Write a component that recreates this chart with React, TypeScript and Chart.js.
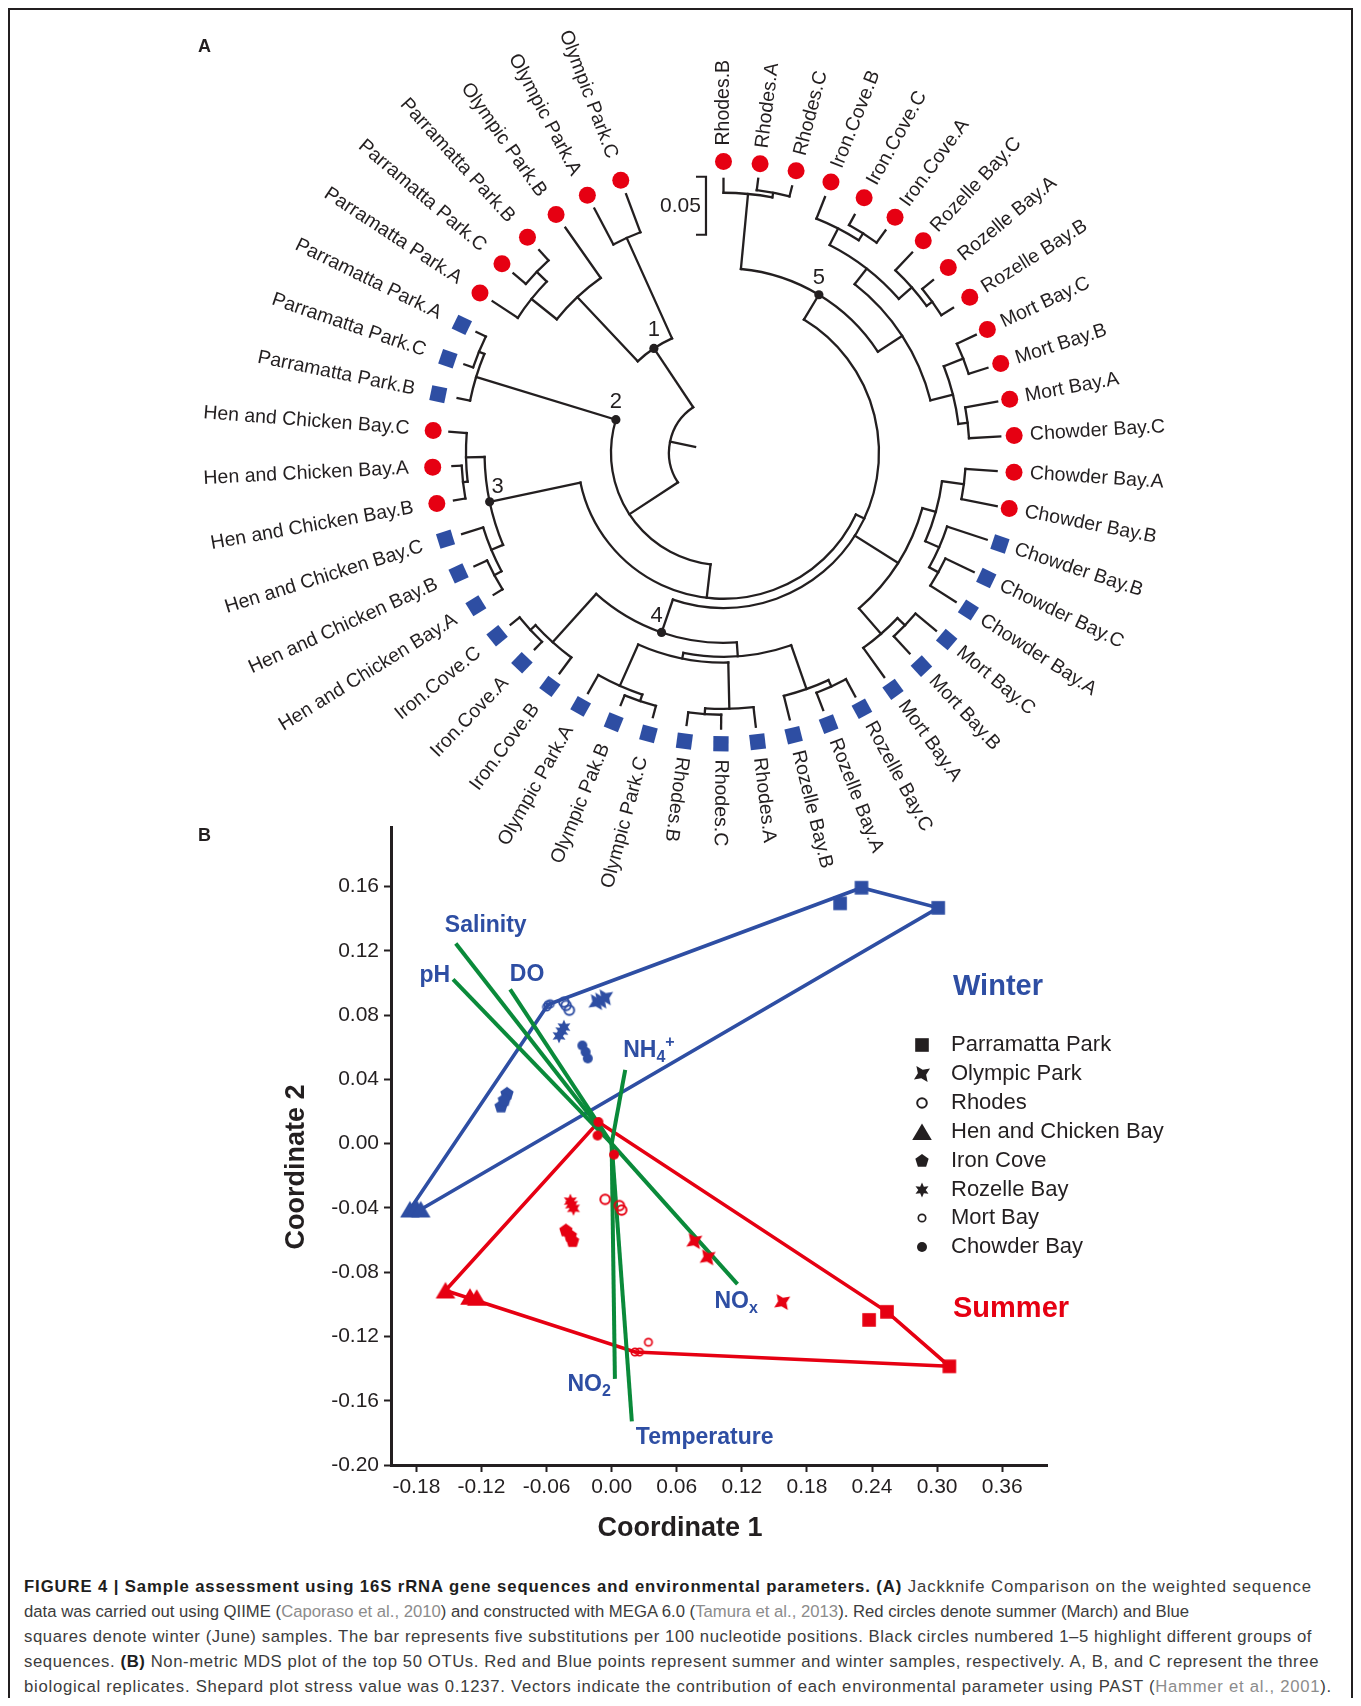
import React, { useEffect, useRef } from 'react';
import { Chart, registerables } from 'chart.js';

Chart.register(...registerables);

const FONT = '"Liberation Sans", Arial, Helvetica, sans-serif';
const INK = '#231f20';
const RED = '#e60012';
const BLUE = '#2e4ea3';
const GREEN = '#0a8a3a';

// ================= Panel A: jackknife tree (clockwise leaf order) =================
const leafNames = [
  'Rhodes.B', 'Rhodes.A', 'Rhodes.C', 'Iron.Cove.B', 'Iron.Cove.C', 'Iron.Cove.A',
  'Rozelle Bay.C', 'Rozelle Bay.A', 'Rozelle Bay.B', 'Mort Bay.C', 'Mort Bay.B', 'Mort Bay.A',
  'Chowder Bay.C', 'Chowder Bay.A', 'Chowder Bay.B', 'Chowder Bay.B', 'Chowder Bay.C', 'Chowder Bay.A',
  'Mort Bay.C', 'Mort Bay.B', 'Mort Bay.A', 'Rozelle Bay.C', 'Rozelle Bay.A', 'Rozelle Bay.B',
  'Rhodes.A', 'Rhodes.C', 'Rhodes.B', 'Olympic Park.C', 'Olympic Pak.B', 'Olympic Park.A',
  'Iron.Cove.B', 'Iron.Cove.A', 'Iron.Cove.C', 'Hen and Chicken Bay.A', 'Hen and Chicken Bay.B', 'Hen and Chicken Bay.C',
  'Hen and Chicken Bay.B', 'Hen and Chicken Bay.A', 'Hen and Chicken Bay.C', 'Parramatta Park.B', 'Parramatta Park.C', 'Parramatta Park.A',
  'Parramatta Park.A', 'Parramatta Park.C', 'Parramatta Park.B', 'Olympic Park.B', 'Olympic Park.A', 'Olympic Park.C',
];
// true = summer (red circle), false = winter (blue square)
const leafSummer = [
  true, true, true, true, true, true, true, true, true, true, true, true,
  true, true, true, false, false, false, false, false, false, false, false, false,
  false, false, false, false, false, false, false, false, false, false, false, false,
  true, true, true, false, false, false, true, true, true, true, true, true,
];
const leafParent = [
  'RhR', 'RhRac', 'RhRac', 'IC', 'ICca', 'ICca', 'RZ', 'RZab', 'RZab', 'MCcb', 'MCcb', 'MCac',
  'MCac', 'CRab', 'CRab', 'CBB', 'CBBca', 'CBBca', 'MBBcb', 'MBBcb', 'MBB', 'RZBac', 'RZBac', 'RZB',
  'RhB', 'RhBbc', 'RhBbc', 'OPBcb', 'OPBcb', 'OPB', 'ICB', 'ICBac', 'ICBac', 'HBab', 'HBab', 'HB',
  'HRba', 'HRba', 'HR', 'PB', 'PBca', 'PBca', 'P', 'PCB', 'PCB', 'c2', 'c1', 'c1',
];
// distance of each tip from the root (substitutions per site)
const leafTip = [
  0.236, 0.238, 0.237, 0.237, 0.234, 0.237, 0.237, 0.234, 0.234, 0.240, 0.239, 0.240,
  0.239, 0.236, 0.240, 0.239, 0.239, 0.238, 0.239, 0.236, 0.238, 0.239, 0.238, 0.237,
  0.238, 0.238, 0.237, 0.236, 0.235, 0.238, 0.237, 0.235, 0.236, 0.233, 0.236, 0.236,
  0.236, 0.234, 0.237, 0.234, 0.236, 0.237, 0.238, 0.238, 0.236, 0.237, 0.238, 0.238,
];
const nodeIds = [
  'root', 'X', 'n1', 'c1', 'c2', 'P', 'PCB', 'Na', 'PB', 'PBca', 'Nb', 'n3', 'HR', 'HRba', 'HB', 'HBab',
  'Nc', 'n5', 'RhR', 'RhRac', 'R5', 'IR', 'IC', 'ICca', 'RZ', 'RZab', 'MC', 'MCcb', 'MCac',
  'Nq', 'MBB', 'MBBcb', 'Ns', 'CBB', 'CBBca', 'CRab',
  'n4', 'ICB', 'ICBac', 'Nd', 'NOR', 'OPB', 'OPBcb', 'RhB', 'RhBbc', 'RZB', 'RZBac',
];
const nodeParent = [
  '', 'root', 'X', 'n1', 'n1', 'c2', 'P', 'X', 'Na', 'PB', 'Na', 'Nb', 'n3', 'HR', 'n3', 'HB',
  'Nb', 'Nc', 'n5', 'RhR', 'n5', 'R5', 'IR', 'IC', 'IR', 'RZ', 'R5', 'MC', 'MC',
  'Nc', 'Nq', 'MBB', 'Nq', 'Ns', 'CBB', 'Ns',
  'Nc', 'n4', 'ICB', 'n4', 'Nd', 'NOR', 'OPB', 'NOR', 'RhB', 'Nd', 'RZB',
];
const nodeDepth = [
  0.025, 0.047, 0.108, 0.203, 0.184, 0.212, 0.224, 0.097, 0.223, 0.228, 0.126, 0.206, 0.222, 0.226, 0.217, 0.224,
  0.134, 0.159, 0.224, 0.228, 0.184, 0.201, 0.217, 0.224, 0.216, 0.222, 0.204, 0.222, 0.212,
  0.178, 0.207, 0.216, 0.190, 0.203, 0.212, 0.209,
  0.164, 0.220, 0.226, 0.176, 0.181, 0.220, 0.226, 0.221, 0.226, 0.216, 0.222,
];
const groupLabels = ['1', '2', '3', '4', '5'];
const groupNodes = ['n1', 'PB', 'n3', 'n4', 'n5'];
const groupAtBase = [false, true, false, false, false];
const scaleBarLength = 0.05;

// ================= Panel B: NMDS =================
const siteNames = ['Parramatta Park', 'Olympic Park', 'Rhodes', 'Hen and Chicken Bay', 'Iron Cove', 'Rozelle Bay', 'Mort Bay', 'Chowder Bay'];
const winterPoints = [
  [[0.2106, 0.1495], [0.2303, 0.1592], [0.3010, 0.1467]],
  [[-0.014, 0.088], [-0.010, 0.089], [-0.006, 0.091]],
  [[-0.044, 0.088], [-0.039, 0.083], [-0.042, 0.086]],
  [[-0.186, -0.041], [-0.180, -0.040], [-0.176, -0.041]],
  [[-0.102, 0.023], [-0.0965, 0.031], [-0.099, 0.027]],
  [[-0.046, 0.070], [-0.0485, 0.067], [-0.044, 0.0725]],
  [[-0.0587, 0.0864], [-0.0566, 0.0870], [-0.060, 0.085]],
  [[-0.027, 0.061], [-0.024, 0.057], [-0.022, 0.053]],
];
const summerPoints = [
  [[0.2373, -0.1097], [0.2538, -0.1047], [0.3113, -0.1386]],
  [[0.0762, -0.0607], [0.0885, -0.0708], [0.1572, -0.0986]],
  [[-0.006, -0.0347], [0.0071, -0.0386], [0.0092, -0.0414]],
  [[-0.1532, -0.0914], [-0.1306, -0.0953], [-0.1244, -0.0959]],
  [[-0.0422, -0.0541], [-0.0381, -0.0574], [-0.0360, -0.0607]],
  [[-0.0381, -0.0358], [-0.0352, -0.0403], [-0.0370, -0.0380]],
  [[0.0215, -0.1297], [0.0256, -0.1297], [0.0339, -0.1236]],
  [[-0.0122, 0.0134], [-0.0130, 0.0050], [0.0022, -0.0069]],
];
const siteMarker = ['square', 'star4', 'ring', 'triangle', 'pentagon', 'star6', 'smallring', 'dot'];
const vectorNames = ['Salinity', 'pH', 'DO', 'NH_4^+', 'NO_x', 'NO_2', 'Temperature'];
const vectorX = [-0.1437, -0.1462, -0.0936, 0.0125, 0.116, 0.003, 0.0186];
const vectorY = [0.1245, 0.1022, 0.0959, 0.0459, -0.0875, -0.1464, -0.1728];
const xTickValues = [-0.18, -0.12, -0.06, 0, 0.06, 0.12, 0.18, 0.24, 0.30, 0.36];
const yTickValues = [-0.20, -0.16, -0.12, -0.08, -0.04, 0, 0.04, 0.08, 0.12, 0.16];

// ---------- layout / style constants ----------
const LEAF_STEP = 7.22;          // degrees between neighbouring leaves
const MARK_R = 0.251;            // ring of leaf symbols
const LABEL_R_OUT = 0.2647;
const LABEL_R_IN = 0.2716;
const vecLabelDx = [30, -3, 17, -2, -23, -4, 4];
const vecLabelDy = [-18, -4, -15, -19, 17, 6, 16];
const vecLabelAlign = ['center', 'right', 'center', 'left', 'left', 'right', 'left'];
const groupLabelDx = [0, 0, 8, -5, 0];
const groupLabelDy = [-18, -18, -15, -17, -17];

const rad = (d: number) => (d * Math.PI) / 180;

function computeTree() {
  const depth: any = {};
  const parent: any = {};
  nodeIds.forEach((id, i) => { depth[id] = nodeDepth[i]; parent[id] = nodeParent[i]; });
  const leafAngle = leafNames.map((_, i) => i * LEAF_STEP);
  const angle: any = {};
  const span: any = {};
  const ang = (id: string): number => {
    if (angle[id] !== undefined) return angle[id];
    const a: number[] = [];
    leafParent.forEach((p, i) => { if (p === id) a.push(leafAngle[i]); });
    nodeIds.forEach((n, i) => { if (nodeParent[i] === id) a.push(ang(n)); });
    const lo = Math.min(...a), hi = Math.max(...a);
    span[id] = [lo, hi];
    angle[id] = (lo + hi) / 2;
    return angle[id];
  };
  nodeIds.forEach((id) => ang(id));
  return { depth, parent, angle, span, leafAngle };
}

function markerCanvas(kind: string, color: string): HTMLCanvasElement {
  const s = 28;
  const c = document.createElement('canvas');
  c.width = s; c.height = s;
  const g = c.getContext('2d') as CanvasRenderingContext2D;
  g.translate(s / 2, s / 2);
  g.fillStyle = color; g.strokeStyle = color;
  const star = (n: number, ro: number, ri: number, rot: number) => {
    g.beginPath();
    for (let i = 0; i < n * 2; i++) {
      const r = i % 2 === 0 ? ro : ri;
      const a = rad(rot + (i * 180) / n);
      const px = r * Math.sin(a), py = -r * Math.cos(a);
      if (i === 0) g.moveTo(px, py); else g.lineTo(px, py);
    }
    g.closePath(); g.fill();
  };
  if (kind === 'square') { g.fillRect(-6.8, -6.8, 13.6, 13.6); }
  else if (kind === 'star4') { star(4, 9.8, 4.2, 55); }
  else if (kind === 'ring') { g.lineWidth = 2; g.beginPath(); g.arc(0, 0, 4.8, 0, Math.PI * 2); g.stroke(); }
  else if (kind === 'triangle') { g.beginPath(); g.moveTo(0, -8.5); g.lineTo(9.8, 8); g.lineTo(-9.8, 8); g.closePath(); g.fill(); }
  else if (kind === 'pentagon') {
    g.beginPath();
    for (let i = 0; i < 5; i++) { const a = rad(i * 72); const px = 7 * Math.sin(a), py = -7 * Math.cos(a); if (i === 0) g.moveTo(px, py); else g.lineTo(px, py); }
    g.closePath(); g.fill();
  }
  else if (kind === 'star6') { star(6, 7.5, 3.7, 0); }
  else if (kind === 'smallring') { g.lineWidth = 1.7; g.beginPath(); g.arc(0, 0, 3.7, 0, Math.PI * 2); g.stroke(); }
  else if (kind === 'dot') { g.beginPath(); g.arc(0, 0, 5, 0, Math.PI * 2); g.fill(); }
  return c;
}

function convexHull(pts: number[][]): number[][] {
  const p = pts.slice().sort((a, b) => a[0] - b[0] || a[1] - b[1]);
  const cross = (o: number[], a: number[], b: number[]) => (a[0] - o[0]) * (b[1] - o[1]) - (a[1] - o[1]) * (b[0] - o[0]);
  const lower: number[][] = [];
  for (const q of p) { while (lower.length >= 2 && cross(lower[lower.length - 2], lower[lower.length - 1], q) <= 0) lower.pop(); lower.push(q); }
  const upper: number[][] = [];
  for (let i = p.length - 1; i >= 0; i--) { const q = p[i]; while (upper.length >= 2 && cross(upper[upper.length - 2], upper[upper.length - 1], q) <= 0) upper.pop(); upper.push(q); }
  upper.pop(); lower.pop();
  return lower.concat(upper);
}

function drawRich(ctx: CanvasRenderingContext2D, text: string, x: number, y: number, align: string, size: number, color: string) {
  const parts: any[] = [];
  for (let i = 0; i < text.length; i++) {
    const ch = text[i];
    if (ch === '_' || ch === '^') { parts.push({ t: text[i + 1], k: ch }); i++; }
    else if (parts.length && parts[parts.length - 1].k === 'n') parts[parts.length - 1].t += ch;
    else parts.push({ t: ch, k: 'n' });
  }
  const fontOf = (k: string) => (k === 'n' ? `bold ${size}px ${FONT}` : `bold ${Math.round(size * 0.68)}px ${FONT}`);
  let w = 0;
  parts.forEach((p) => { ctx.font = fontOf(p.k); p.w = ctx.measureText(p.t).width; w += p.w; });
  let cx = align === 'left' ? x : align === 'right' ? x - w : x - w / 2;
  ctx.textAlign = 'left'; ctx.textBaseline = 'middle'; ctx.fillStyle = color;
  parts.forEach((p) => {
    ctx.font = fontOf(p.k);
    const dy = p.k === '_' ? size * 0.3 : p.k === '^' ? -size * 0.36 : 0;
    ctx.fillText(p.t, cx, y + dy);
    cx += p.w;
  });
}

function treeConfig(): any {
  const T = computeTree();
  const summer: any[] = [], winter: any[] = [], winterRot: number[] = [];
  leafNames.forEach((_, i) => {
    const a = rad(T.leafAngle[i]);
    const pt = { x: MARK_R * Math.sin(a), y: MARK_R * Math.cos(a) };
    if (leafSummer[i]) summer.push(pt); else { winter.push(pt); winterRot.push(T.leafAngle[i]); }
  });
  const dots = groupNodes.map((id, g) => {
    const r = groupAtBase[g] ? T.depth[T.parent[id]] : T.depth[id];
    const a = rad(T.angle[id]);
    return { x: r * Math.sin(a), y: r * Math.cos(a) };
  });

  const plugin = {
    id: 'treeDraw',
    beforeDatasetsDraw(chart: any) {
      const { ctx } = chart; const xs = chart.scales.x, ys = chart.scales.y;
      const P = (r: number, a: number) => [xs.getPixelForValue(r * Math.sin(rad(a))), ys.getPixelForValue(r * Math.cos(rad(a)))];
      const cx = xs.getPixelForValue(0), cy = ys.getPixelForValue(0);
      const k = xs.getPixelForValue(1) - cx;
      const seg = (p: number[], q: number[]) => { ctx.beginPath(); ctx.moveTo(p[0], p[1]); ctx.lineTo(q[0], q[1]); ctx.stroke(); };
      ctx.save();
      ctx.strokeStyle = INK; ctx.lineWidth = 2.3; ctx.lineCap = 'square';
      nodeIds.forEach((id, i) => {
        const p = nodeParent[i];
        if (p) seg(P(T.depth[p], T.angle[id]), P(T.depth[id], T.angle[id]));
        const [lo, hi] = T.span[id];
        if (hi > lo) { ctx.beginPath(); ctx.arc(cx, cy, T.depth[id] * k, rad(lo - 90), rad(hi - 90), false); ctx.stroke(); }
      });
      leafNames.forEach((_, i) => seg(P(T.depth[leafParent[i]], T.leafAngle[i]), P(leafTip[i], T.leafAngle[i])));
      ctx.restore();
    },
    afterDatasetsDraw(chart: any) {
      const { ctx } = chart; const xs = chart.scales.x, ys = chart.scales.y;
      const cx = xs.getPixelForValue(0), cy = ys.getPixelForValue(0);
      const k = xs.getPixelForValue(1) - cx;
      ctx.save();
      ctx.fillStyle = INK; ctx.textBaseline = 'middle';
      ctx.font = `19.5px ${FONT}`;
      leafNames.forEach((name, i) => {
        const a = T.leafAngle[i];
        const outward = a <= 190 || a >= 350;
        ctx.save(); ctx.translate(cx, cy);
        if (outward) { ctx.rotate(rad(a - 90)); ctx.textAlign = 'left'; ctx.fillText(name, LABEL_R_OUT * k, 0); }
        else { ctx.rotate(rad(a + 90)); ctx.textAlign = 'right'; ctx.fillText(name, -LABEL_R_IN * k, 0); }
        ctx.restore();
      });
      // group numbers
      ctx.font = `22px ${FONT}`; ctx.textAlign = 'center';
      dots.forEach((d, g) => {
        ctx.fillText(groupLabels[g], xs.getPixelForValue(d.x) + groupLabelDx[g], ys.getPixelForValue(d.y) + groupLabelDy[g]);
      });
      // scale bar
      const bx = xs.getPixelForValue(-0.0151);
      const by0 = ys.getPixelForValue(0.2378);
      const by1 = ys.getPixelForValue(0.2378 - scaleBarLength);
      ctx.strokeStyle = INK; ctx.lineWidth = 2.2; ctx.lineCap = 'butt';
      ctx.beginPath(); ctx.moveTo(bx - 10, by0); ctx.lineTo(bx, by0); ctx.lineTo(bx, by1); ctx.lineTo(bx - 10, by1); ctx.stroke();
      ctx.font = `21px ${FONT}`; ctx.textAlign = 'right';
      ctx.fillText(scaleBarLength.toFixed(2), bx - 5, (by0 + by1) / 2);
      ctx.restore();
    },
  };

  return {
    type: 'scatter',
    data: {
      datasets: [
        { data: dots, pointStyle: 'circle', pointRadius: 4.6, pointBackgroundColor: INK, pointBorderWidth: 0 },
        { data: summer, pointStyle: 'circle', pointRadius: 8.5, pointBackgroundColor: RED, pointBorderWidth: 0 },
        { data: winter, pointStyle: 'rect', pointRadius: 10.8, pointRotation: winterRot, pointBackgroundColor: BLUE, pointBorderWidth: 0 },
      ],
    },
    options: {
      responsive: false, animation: false, events: [],
      layout: { padding: 0, autoPadding: false },
      scales: {
        x: { type: 'linear', display: false, min: -0.46853, max: 0.47974 },
        y: { type: 'linear', display: false, min: -0.39, max: 0.36862 },
      },
      plugins: { legend: { display: false }, tooltip: { enabled: false } },
    },
    plugins: [plugin],
  };
}

function nmdsConfig(): any {
  const blueM = siteMarker.map((m) => markerCanvas(m, BLUE));
  const redM = siteMarker.map((m) => markerCanvas(m, RED));
  const inkM = siteMarker.map((m) => markerCanvas(m, INK));
  const toXY = (a: number[][]) => a.map(([x, y]) => ({ x, y }));
  const datasets: any[] = [];
  siteNames.forEach((n, s) => {
    datasets.push({ label: 'Winter ' + n, data: toXY(winterPoints[s]), pointStyle: blueM[s], pointRadius: 7, order: 0 });
    datasets.push({ label: 'Summer ' + n, data: toXY(summerPoints[s]), pointStyle: redM[s], pointRadius: 7, order: 0 });
  });
  const wh = convexHull(winterPoints.flat());
  const sh = convexHull(summerPoints.flat());
  datasets.push({ label: 'winter hull', data: toXY(wh.concat([wh[0]])), showLine: true, borderColor: BLUE, borderWidth: 3.6, pointRadius: 0, tension: 0, fill: false, order: 2 });
  datasets.push({ label: 'summer hull', data: toXY(sh.concat([sh[0]])), showLine: true, borderColor: RED, borderWidth: 3.6, pointRadius: 0, tension: 0, fill: false, order: 2 });
  vectorNames.forEach((n, i) => {
    datasets.push({ label: n, data: [{ x: 0, y: 0 }, { x: vectorX[i], y: vectorY[i] }], showLine: true, borderColor: GREEN, borderWidth: 4, pointRadius: 0, tension: 0, fill: false, order: 1 });
  });

  const plugin = {
    id: 'nmdsExtras',
    afterDraw(chart: any) {
      const { ctx, chartArea: ca } = chart; const xs = chart.scales.x, ys = chart.scales.y;
      ctx.save();
      vectorNames.forEach((n, i) => {
        const ex = xs.getPixelForValue(vectorX[i]), ey = ys.getPixelForValue(vectorY[i]);
        drawRich(ctx, n, ex + vecLabelDx[i], ey + vecLabelDy[i], vecLabelAlign[i], 23, BLUE);
      });
      const lx = ca.right - 94;
      ctx.textAlign = 'left'; ctx.textBaseline = 'middle';
      ctx.font = `bold 29px ${FONT}`; ctx.fillStyle = BLUE;
      ctx.fillText('Winter', lx, ca.top + 160);
      siteNames.forEach((n, i) => {
        const yy = ca.top + 218 + i * 28.9;
        const m = inkM[i];
        ctx.drawImage(m, Math.round(lx - 31 - m.width / 2), Math.round(yy - m.height / 2));
        ctx.font = `22px ${FONT}`; ctx.fillStyle = INK;
        ctx.fillText(n, lx - 2, yy);
      });
      ctx.font = `bold 29px ${FONT}`; ctx.fillStyle = RED;
      ctx.fillText('Summer', lx, ca.top + 482);
      ctx.font = `bold 27px ${FONT}`; ctx.fillStyle = INK; ctx.textAlign = 'center';
      ctx.fillText('Coordinate 1', ca.left + 289, ca.bottom + 63.5);
      ctx.translate(ca.left - 94.5, ca.top + 340);
      ctx.rotate(-Math.PI / 2);
      ctx.fillText('Coordinate 2', 0, 0);
      ctx.restore();
    },
  };

  const tickFont = { size: 21, family: FONT };
  return {
    type: 'scatter',
    data: { datasets },
    options: {
      responsive: false, animation: false, events: [],
      layout: { padding: { left: 0, right: 153, top: 27, bottom: 45 }, autoPadding: false },
      scales: {
        x: {
          type: 'linear', position: 'bottom', min: -0.2034, max: 0.4013,
          afterBuildTicks: (s: any) => { s.ticks = xTickValues.map((v) => ({ value: v })); },
          afterFit: (s: any) => { s.height = 50; },
          ticks: { callback: (v: any) => Number(v).toFixed(2), font: tickFont, color: INK, padding: 3, autoSkip: false, maxRotation: 0 },
          grid: { drawOnChartArea: false, drawTicks: true, tickLength: 7, tickWidth: 2, tickColor: INK },
          border: { display: true, color: INK, width: 3 },
        },
        y: {
          type: 'linear', position: 'left', min: -0.2, max: 0.197,
          afterBuildTicks: (s: any) => { s.ticks = yTickValues.map((v) => ({ value: v })); },
          afterFit: (s: any) => { s.width = 151; },
          ticks: { callback: (v: any) => Number(v).toFixed(2), font: tickFont, color: INK, padding: 5, autoSkip: false },
          grid: { drawOnChartArea: false, drawTicks: true, tickLength: 7, tickWidth: 2, tickColor: INK },
          border: { display: true, color: INK, width: 3 },
        },
      },
      plugins: { legend: { display: false }, tooltip: { enabled: false } },
    },
    plugins: [plugin],
  };
}

const gray = { color: '#8c8c8c' };
const captionLines: any[] = [
  { w: 1288, c: (<><b style={{ color: '#1e1e1e' }}>FIGURE 4 | Sample assessment using 16S rRNA gene sequences and environmental parameters. (A)</b> Jackknife Comparison on the weighted sequence</>) },
  { w: 1165, c: (<>data was carried out using QIIME (<span style={gray}>Caporaso et al., 2010</span>) and constructed with MEGA 6.0 (<span style={gray}>Tamura et al., 2013</span>). Red circles denote summer (March) and Blue</>) },
  { w: 1288, c: (<>squares denote winter (June) samples. The bar represents five substitutions per 100 nucleotide positions. Black circles numbered 1–5 highlight different groups of</>) },
  { w: 1295, c: (<>sequences. <b style={{ color: '#1e1e1e' }}>(B)</b> Non-metric MDS plot of the top 50 OTUs. Red and Blue points represent summer and winter samples, respectively. A, B, and C represent the three</>) },
  { w: 1308, c: (<>biological replicates. Shepard plot stress value was 0.1237. Vectors indicate the contribution of each environmental parameter using PAST (<span style={gray}>Hammer et al., 2001</span>).</>) },
];

export default function App() {
  const treeRef = useRef<HTMLCanvasElement>(null);
  const nmdsRef = useRef<HTMLCanvasElement>(null);
  const capRef = useRef<HTMLDivElement>(null);
  useEffect(() => {
    const c2 = new Chart(nmdsRef.current as HTMLCanvasElement, nmdsConfig());
    const c1 = new Chart(treeRef.current as HTMLCanvasElement, treeConfig());
    // spread each caption line evenly to its printed width
    const host = capRef.current;
    if (host) {
      Array.from(host.children).forEach((el: any, i) => {
        el.style.letterSpacing = '0px';
        const natural = el.getBoundingClientRect().width;
        const n = (el.textContent || '').length;
        const extra = (captionLines[i].w - natural) / Math.max(1, n);
        el.style.letterSpacing = `${Math.max(-0.5, Math.min(1.2, extra)).toFixed(3)}px`;
      });
    }
    return () => { c1.destroy(); c2.destroy(); };
  }, []);
  return (
    <div style={{ position: 'relative', width: 1345, height: 1690, overflow: 'hidden', fontFamily: FONT, background: '#fff' }}>
      <div style={{ position: 'absolute', left: 0, top: 0, width: 1345, height: 1730, border: `2px solid ${INK}`, boxSizing: 'border-box' }} />
      <canvas ref={nmdsRef} width={960} height={760} style={{ position: 'absolute', left: 232, top: 792, width: 960, height: 760 }} />
      <canvas ref={treeRef} width={1100} height={880} style={{ position: 'absolute', left: 172, top: 17, width: 1100, height: 880 }} />
      <div style={{ position: 'absolute', left: 190, top: 29, fontSize: 18, lineHeight: '18px', fontWeight: 'bold', color: INK }}>A</div>
      <div style={{ position: 'absolute', left: 190, top: 818, fontSize: 18, lineHeight: '18px', fontWeight: 'bold', color: INK }}>B</div>
      <div ref={capRef} style={{ position: 'absolute', left: 16, top: 1566, fontSize: 16.7, lineHeight: '25px', color: '#3c3c3c' }}>
        {captionLines.map((l, i) => (
          <div key={i} style={{ display: 'table', whiteSpace: 'nowrap' }}>{l.c}</div>
        ))}
      </div>
    </div>
  );
}
